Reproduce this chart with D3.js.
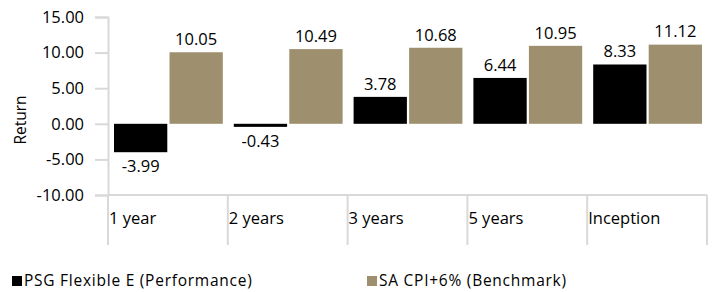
<!DOCTYPE html>
<html>
<head>
<meta charset="utf-8">
<script src="https://d3js.org/d3.v7.min.js"></script>
<style>
  body { margin: 0; background: #fff; }
  text { font-family: "Open Sans", sans-serif; fill: #000; }
</style>
</head>
<body>
<div id="chart"></div>
<script>
var categories = ["1 year", "2 years", "3 years", "5 years", "Inception"];
var seriesNames = ["PSG Flexible E (Performance)", "SA CPI+6% (Benchmark)"];
var performance = [-3.99, -0.43, 3.78, 6.44, 8.33];
var benchmark = [10.05, 10.49, 10.68, 10.95, 11.12];
var yTicks = [-10, -5, 0, 5, 10, 15];
var colors = ["#000000", "#9e8f6e"];

var W = 715, H = 292;
var margin = {top: 17, right: 8, bottom: 97, left: 108},
    width = W - margin.left - margin.right,
    height = H - margin.top - margin.bottom;

var svg = d3.select("#chart").append("svg")
    .attr("width", W)
    .attr("height", H);

var g = svg.append("g")
    .attr("transform", "translate(" + margin.left + "," + margin.top + ")");

var x0 = d3.scaleBand().domain(categories).range([0, width]).padding(0);
var x1 = d3.scaleBand().domain([0, 1]).range([6, x0.bandwidth() - 5]).paddingInner(0.04);
var y = d3.scaleLinear().domain([-10, 15]).range([height, 0]);

// plain hyphen for negatives, like the original
var fmt = d3.formatLocale({decimal: ".", thousands: ",", grouping: [3], currency: ["", ""], minus: "-"}).format(".2f");

// y axis
var yAxis = g.append("g")
    .call(d3.axisLeft(y).tickValues(yTicks).tickSize(13).tickPadding(11).tickFormat(fmt));
yAxis.select(".domain").attr("stroke", "#d9d9d9").attr("stroke-width", 2);
yAxis.selectAll(".tick line").attr("stroke", "#d9d9d9").attr("stroke-width", 2);
yAxis.selectAll(".tick text").style("font-size", "16.5px").attr("fill", "#000");

g.append("text")
    .attr("transform", "translate(" + (21 - margin.left) + "," + (120 - margin.top) + ") rotate(-90)")
    .attr("text-anchor", "middle")
    .attr("dy", "0.35em")
    .style("font-size", "15.5px")
    .text("Return");

// x axis at bottom with category separators
var xAxis = g.append("g").attr("transform", "translate(0," + height + ")");
xAxis.append("line")
    .attr("x1", 0).attr("x2", width)
    .attr("stroke", "#d9d9d9").attr("stroke-width", 2);
xAxis.selectAll(".sep")
    .data(categories.concat(["end"]))
    .enter().append("line")
    .attr("class", "sep")
    .attr("x1", function(d, i) { return i * x0.bandwidth(); })
    .attr("x2", function(d, i) { return i * x0.bandwidth(); })
    .attr("y1", 0).attr("y2", 50)
    .attr("stroke", "#d9d9d9").attr("stroke-width", 2);
xAxis.selectAll(".cat")
    .data(categories)
    .enter().append("text")
    .attr("class", "cat")
    .attr("x", function(d) { return x0(d) + 1; })
    .attr("y", 23)
    .attr("dy", "0.35em")
    .style("font-size", "16.5px")
    .text(function(d) { return d; });

// bars
var groups = g.selectAll(".grp")
    .data(categories)
    .enter().append("g")
    .attr("class", "grp")
    .attr("transform", function(d) { return "translate(" + x0(d) + ",0)"; });

var series = [performance, benchmark];
groups.selectAll("rect")
    .data(function(d, i) { return series.map(function(s, k) { return {k: k, v: s[i]}; }); })
    .enter().append("rect")
    .attr("x", function(d) { return x1(d.k); })
    .attr("width", x1.bandwidth())
    .attr("y", function(d) { return y(Math.max(0, d.v)); })
    .attr("height", function(d) { return Math.abs(y(d.v) - y(0)); })
    .attr("fill", function(d) { return colors[d.k]; });

groups.selectAll(".val")
    .data(function(d, i) { return series.map(function(s, k) { return {k: k, v: s[i]}; }); })
    .enter().append("text")
    .attr("class", "val")
    .attr("x", function(d) { return x1(d.k) + x1.bandwidth() / 2; })
    .attr("y", function(d) { return d.v >= 0 ? y(d.v) - 13 : y(d.v) + 14; })
    .attr("dy", "0.35em")
    .attr("text-anchor", "middle")
    .style("font-size", "16.5px")
    .text(function(d) { return fmt(d.v); });

// legend
var legendX = [12, 367];
var legend = svg.selectAll(".legend")
    .data(seriesNames)
    .enter().append("g")
    .attr("class", "legend")
    .attr("transform", function(d, i) { return "translate(" + legendX[i] + ",276)"; });
legend.append("rect")
    .attr("width", 10).attr("height", 10)
    .attr("fill", function(d, i) { return colors[i]; });
legend.append("text")
    .attr("x", 12)
    .attr("y", 5)
    .attr("dy", "0.35em")
    .style("font-size", "15.5px")
    .style("letter-spacing", "0.75px")
    .text(function(d) { return d; });
</script>
</body>
</html>
